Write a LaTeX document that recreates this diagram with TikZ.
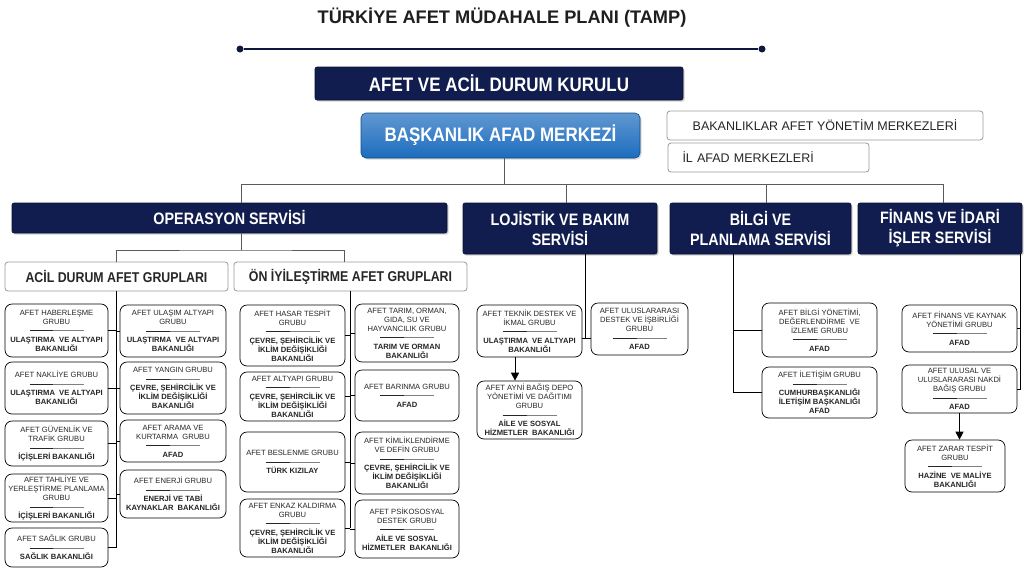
\documentclass[tikz,border=0pt]{standalone}
\usepackage{fontspec}
\setmainfont{Liberation Sans}
\newfontfamily\narrowf[FakeStretch=0.87]{Liberation Sans}
\usetikzlibrary{arrows.meta,shadows}
\definecolor{navyc}{RGB}{17,29,78}
\definecolor{bluec}{RGB}{28,108,190}
\definecolor{linec}{RGB}{90,90,90}
\definecolor{titlec}{RGB}{30,30,30}
\newcommand\dl{\rule[2.3pt]{24pt}{0.6pt}\textcolor{gray}{\rule[2.3pt]{30pt}{0.6pt}}}
\newcommand\bxat[6]{\node[#1,minimum width={#4-#2},minimum height={#5-#3}] (#6) at ({(#2+#4)/2},{(#3+#5)/2})}
\tikzset{
  x=1pt, y=-1pt,
  grp/.style={draw=black, line width=0.7pt, rounded corners=7pt, fill=white, align=center,
    inner sep=1pt, text=black!85, font=\fontsize{7.6}{9}\selectfont},
  navybox/.style={fill=navyc, draw=navyc!60!black, line width=0.6pt, text=white, align=center,
    rounded corners=2pt, inner sep=1pt,
    drop shadow={shadow xshift=1.5pt, shadow yshift=-1.5pt, opacity=.35}},
  svc/.style={navybox, font=\narrowf\fontsize{16.5}{19}\selectfont\bfseries},
  hdr/.style={draw=gray!80, line width=0.8pt, rounded corners=3pt, fill=white, inner sep=1pt,
    text=black!85, font=\narrowf\fontsize{14.2}{16}\selectfont\bfseries},
  side/.style={draw=gray!80, line width=0.8pt, rounded corners=3pt, fill=white, inner sep=1pt,
    text=black!85, font=\fontsize{12.5}{14}\selectfont},
  tree/.style={draw=linec, line width=0.8pt},
  sub/.style={draw=black, line width=0.7pt},
  arr/.style={draw=black, line width=1pt, -{Triangle[width=8pt,length=8pt]}},
  dot/.style={circle, fill=navyc!80!black, inner sep=0pt, minimum size=7pt}
}
\begin{document}
\begin{tikzpicture}
\useasboundingbox[fill=white] (0,0) rectangle (1025,568);

% title
\node[text=titlec, font=\fontsize{18.2}{21}\selectfont\bfseries] (title) at (502,18) {TÜRKİYE AFET MÜDAHALE PLANI (TAMP)};
\node[dot] (l1) at (240,49) {};
\node[dot] (l2) at (762,49) {};
\draw[navyc!80!black, line width=1.3pt] (l1) -- (l2);

% top boxes
\bxat{navybox, font=\narrowf\fontsize{19.5}{22}\selectfont\bfseries}{315}{67}{683}{100}{kur} {AFET VE ACİL DURUM KURULU};
\bxat{draw=bluec!70!black, line width=0.6pt, top color=bluec!70!white, bottom color=bluec, rounded corners=5pt, text=white,
  font=\narrowf\fontsize{19.5}{22}\selectfont\bfseries, drop shadow={shadow xshift=1.5pt, shadow yshift=-1.5pt, opacity=.3}}{361}{113}{640}{158}{bask} {BAŞKANLIK AFAD MERKEZİ};
\bxat{side}{667}{111}{983}{140}{bak} {BAKANLIKLAR AFET YÖNETİM MERKEZLERİ};
\bxat{side, text width=172pt}{668}{143}{869}{172}{il} {İL AFAD MERKEZLERİ};

% services
\bxat{svc}{12}{203}{447}{233}{op} {OPERASYON SERVİSİ};
\bxat{svc, font=\narrowf\fontsize{16.5}{20}\selectfont\bfseries}{463}{203}{657}{254}{loj} {LOJİSTİK VE BAKIM\\SERVİSİ};
\bxat{svc, font=\narrowf\fontsize{16.5}{20}\selectfont\bfseries}{670}{203}{851}{254}{bil} {BİLGİ VE\\PLANLAMA SERVİSİ};
\bxat{svc, font=\narrowf\fontsize{16.5}{20}\selectfont\bfseries}{858}{203}{1022}{254}{fin} {FİNANS VE İDARİ\\İŞLER SERVİSİ};

% tree
\coordinate (hub) at (504,184);
\coordinate (opT) at (241,203);
\coordinate (ljT) at (566,203);
\coordinate (bgT) at (766,203);
\coordinate (fnT) at (943,203);
\draw[tree] (bask.south -| hub) -- (hub);
\draw[tree] (hub) -| (opT);
\draw[tree] (hub) -| (ljT);
\draw[tree] (hub) -| (bgT);
\draw[tree] (hub) -| (fnT);

% group headers
\bxat{hdr}{5}{262}{228}{291}{acil} {ACİL DURUM AFET GRUPLARI};
\bxat{hdr}{234}{262}{467}{291}{on} {ÖN İYİLEŞTİRME AFET GRUPLARI};
\coordinate (opB) at (241,233);
\coordinate (opJ) at (241,250);
\coordinate (acT) at (116,262);
\coordinate (onT) at (344,262);
\draw[tree] (opB) -- (opJ);
\draw[tree] (acT) |- (opJ) -| (onT);

% ACIL column
\bxat{grp}{5}{304}{108}{357}{a1} {AFET HABERLEŞME\\GRUBU\\\dl\\\textbf{ULAŞTIRMA\ \ VE ALTYAPI}\\\textbf{BAKANLIĞI}};
\bxat{grp}{5}{362}{108}{414}{a2} {AFET NAKLİYE GRUBU\\\dl\\\textbf{ULAŞTIRMA\ \ VE ALTYAPI}\\\textbf{BAKANLIĞI}};
\bxat{grp}{5}{421}{108}{466}{a3} {AFET GÜVENLİK VE\\TRAFİK GRUBU\\\dl\\\textbf{İÇİŞLERİ BAKANLIĞI}};
\bxat{grp}{5}{474}{108}{522}{a4} {AFET TAHLİYE VE\\YERLEŞTİRME PLANLAMA\\GRUBU\\\dl\\\textbf{İÇİŞLERİ BAKANLIĞI}};
\bxat{grp}{5}{528}{108}{567}{a5} {AFET SAĞLIK GRUBU\\\dl\\\textbf{SAĞLIK BAKANLIĞI}};
\bxat{grp}{120}{305}{226}{357}{b1} {AFET ULAŞIM ALTYAPI\\GRUBU\\\dl\\\textbf{ULAŞTIRMA\ \ VE ALTYAPI}\\\textbf{BAKANLIĞI}};
\bxat{grp}{120}{362}{226}{414}{b2} {AFET YANGIN GRUBU\\\dl\\\textbf{ÇEVRE, ŞEHİRCİLİK VE}\\\textbf{İKLİM DEĞİŞİKLİĞİ}\\\textbf{BAKANLIĞI}};
\bxat{grp}{120}{420}{226}{462}{b3} {AFET ARAMA VE\\KURTARMA\ \ GRUBU\\\dl\\\textbf{AFAD}};
\bxat{grp}{120}{470}{226}{518}{b4} {AFET ENERJİ GRUBU\\\dl\\\textbf{ENERJİ VE TABİ}\\\textbf{KAYNAKLAR\ \ BAKANLIĞI}};
\coordinate (acB) at (116,291);
\draw[sub] (acB) -- (a5.east -| acB);
\foreach \n in {a1,a2,a3,a4,a5} \draw[sub] (\n.east) -- (\n.east -| acB);
\foreach \n in {b1,b2,b3,b4} \draw[sub] (\n.west) -- (\n.west -| acB);

% ON column
\bxat{grp}{240}{305}{345}{366}{c1} {AFET HASAR TESPİT\\GRUBU\\\dl\\\textbf{ÇEVRE, ŞEHİRCİLİK VE}\\\textbf{İKLİM DEĞİŞİKLİĞİ}\\\textbf{BAKANLIĞI}};
\bxat{grp}{240}{372}{345}{421}{c2} {AFET ALTYAPI GRUBU\\\dl\\\textbf{ÇEVRE, ŞEHİRCİLİK VE}\\\textbf{İKLİM DEĞİŞİKLİĞİ}\\\textbf{BAKANLIĞI}};
\bxat{grp}{240}{432}{345}{492}{c3} {AFET BESLENME GRUBU\\\dl\\\textbf{TÜRK KIZILAY}};
\bxat{grp}{240}{499}{345}{557}{c4} {AFET ENKAZ KALDIRMA\\GRUBU\\\dl\\\textbf{ÇEVRE, ŞEHİRCİLİK VE}\\\textbf{İKLİM DEĞİŞİKLİĞİ}\\\textbf{BAKANLIĞI}};
\bxat{grp}{355}{304}{459}{362}{d1} {AFET TARIM, ORMAN,\\GIDA, SU VE\\HAYVANCILIK GRUBU\\\dl\\\textbf{TARIM VE ORMAN}\\\textbf{BAKANLIĞI}};
\bxat{grp}{355}{370}{459}{421}{d2} {AFET BARINMA GRUBU\\\dl\\\textbf{AFAD}};
\bxat{grp}{355}{432}{459}{494}{d3} {AFET KİMLİKLENDİRME\\VE DEFİN GRUBU\\\dl\\\textbf{ÇEVRE, ŞEHİRCİLİK VE}\\\textbf{İKLİM DEĞİŞİKLİĞİ}\\\textbf{BAKANLIĞI}};
\bxat{grp}{355}{500}{459}{558}{d4} {AFET PSİKOSOSYAL\\DESTEK GRUBU\\\dl\\\textbf{AİLE VE SOSYAL}\\\textbf{HİZMETLER\ \ BAKANLIĞI}};
\coordinate (onB) at (350,291);
\draw[sub] (onB) -- (c4.east -| onB);
\foreach \n in {c1,c2,c3,c4} \draw[sub] (\n.east) -- (\n.east -| onB);
\foreach \n in {d1,d2,d3,d4} \draw[sub] (\n.west) -- (\n.west -| onB);

% LOJISTIK
\bxat{grp}{477}{305}{582}{357}{e1} {AFET TEKNİK DESTEK VE\\İKMAL GRUBU\\\dl\\\textbf{ULAŞTIRMA\ \ VE ALTYAPI}\\\textbf{BAKANLIĞI}};
\bxat{grp}{591}{303}{688}{355}{e2} {AFET ULUSLARARASI\\DESTEK VE İŞBİRLİĞİ\\GRUBU\\\dl\\\textbf{AFAD}};
\bxat{grp}{477}{381}{582}{439}{e3} {AFET AYNİ BAĞIŞ DEPO\\YÖNETİMİ VE DAĞITIMI\\GRUBU\\\dl\\\textbf{AİLE VE SOSYAL}\\\textbf{HİZMETLER\ \ BAKANLIĞI}};
\coordinate (ljB) at (585,254);
\coordinate (ljJ) at (585,338);
\coordinate (ax) at (515,0);
\draw[sub] (ljB) -- (ljJ);
\draw[sub] (e1.east |- ljJ) -- (e2.west |- ljJ);
\draw[arr] (e1.south -| ax) -- (e3.north -| ax);

% BILGI
\bxat{grp}{762}{303}{877}{357}{f1} {AFET BİLGİ YÖNETİMİ,\\DEĞERLENDİRME\ \ VE\\İZLEME GRUBU\\\dl\\\textbf{AFAD}};
\bxat{grp}{762}{367}{877}{418}{f2} {AFET İLETİŞİM GRUBU\\\dl\\\textbf{CUMHURBAŞKANLIĞI}\\\textbf{İLETİŞİM BAŞKANLIĞI}\\\textbf{AFAD}};
\coordinate (bgB) at (733,254);
\draw[sub] (bgB) |- (f2.west);
\draw[sub] (f1.west) -- (f1.west -| bgB);

% FINANS
\bxat{grp}{902}{305}{1017}{352}{g1} {AFET FİNANS VE KAYNAK\\YÖNETİMİ GRUBU\\\dl\\\textbf{AFAD}};
\bxat{grp}{902}{365}{1017}{413}{g2} {AFET ULUSAL VE\\ULUSLARARASI NAKDİ\\BAĞIŞ GRUBU\\\dl\\\textbf{AFAD}};
\bxat{grp}{905}{440}{1005}{492}{g3} {AFET ZARAR TESPİT\\GRUBU\\\dl\\\textbf{HAZİNE\ \ VE MALİYE}\\\textbf{BAKANLIĞI}};
\coordinate (fnB) at (1020,254);
\draw[sub] (fnB) |- (g2.east);
\draw[sub] (g1.east) -- (g1.east -| fnB);
\draw[arr] (g2.south) -- (g2.south |- g3.north);
\end{tikzpicture}
\end{document}
